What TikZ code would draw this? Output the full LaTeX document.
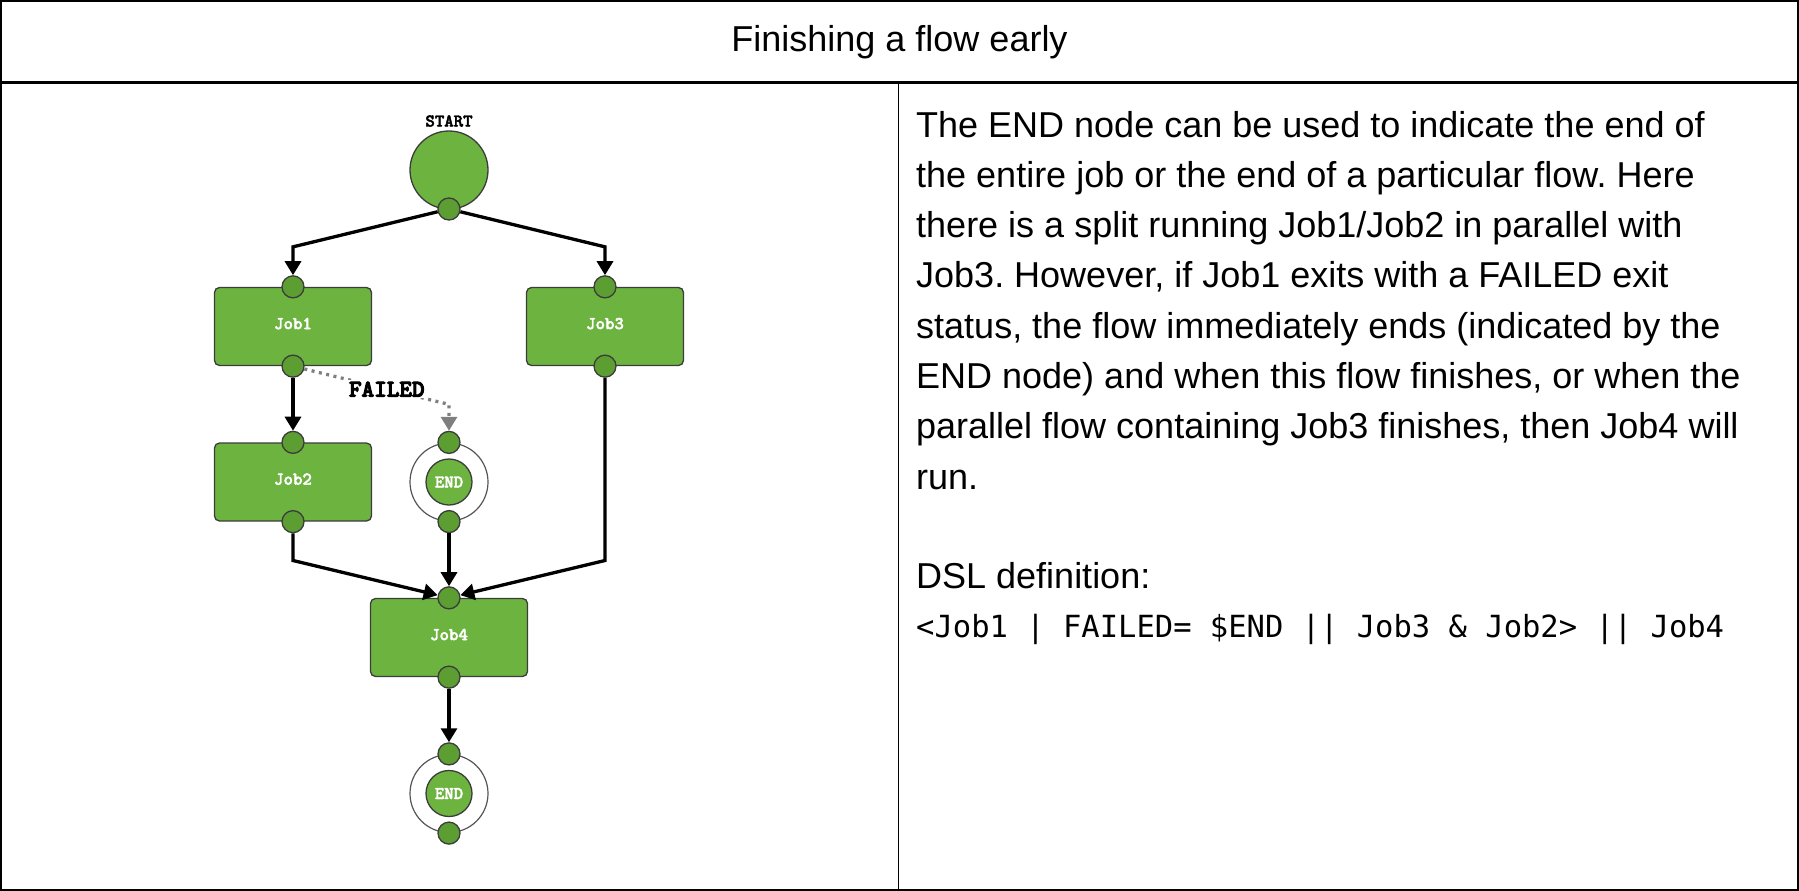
\documentclass[tikz,border=0pt]{standalone}
\usepackage{fontspec}
\setmainfont{Liberation Sans}
\newfontfamily\codefont{DejaVu Sans Mono}
\newfontfamily\lblfont{lmmonolt10-bold.otf}[FakeBold=2.5]
\newfontfamily\failfont{lmmonolt10-bold.otf}[FakeBold=4]
\usetikzlibrary{arrows.meta,calc}
\definecolor{boxgreen}{HTML}{6DB33F}
\definecolor{portgreen}{HTML}{5C9E31}
\definecolor{edgegray}{HTML}{3C3C3C}
\definecolor{ringgray}{HTML}{555555}
\definecolor{failgray}{HTML}{7F7F7F}
\frenchspacing
\begin{document}
\begin{tikzpicture}[x=1pt,y=-1pt,
  lbl/.style={font=\lblfont\fontsize{18}{18}\selectfont},
  jobbox/.style={draw=edgegray, line width=1.3pt, fill=boxgreen, rounded corners=5pt,
    minimum width=157pt, minimum height=78pt, inner sep=0pt, text=white, lbl, text depth=6pt},
  port/.style={circle, draw=edgegray, line width=1.3pt, fill=portgreen, minimum size=22pt, inner sep=0pt},
  ring/.style={circle, draw=ringgray, line width=1.2pt, fill=white, minimum size=78pt, inner sep=0pt},
  endcore/.style={circle, draw=edgegray, line width=1.3pt, fill=boxgreen, minimum size=46pt,
    inner sep=0pt, text=white, lbl},
  startnode/.style={circle, draw=edgegray, line width=1.3pt, fill=boxgreen, minimum size=78pt, inner sep=0pt},
  flow/.style={line width=3.3pt, -{Triangle[length=14pt,width=16pt]}},
  failflow/.style={line width=3.3pt, color=failgray, dash pattern=on 3pt off 4.5pt,
    -{Triangle[length=14pt,width=16pt]}},
  para/.style={anchor=base west, inner sep=0pt, font=\fontsize{36}{36}\selectfont},
]
\useasboundingbox (0,0) rectangle (1799,891);
% table
\draw[line width=2pt] (1,1) rectangle (1798,890);
\draw[line width=2.2pt] (0,82.5) -- (1799,82.5);
\draw[line width=1.6pt] (898.5,82.5) -- (898.5,891);
\node[anchor=base, inner sep=0pt, font=\fontsize{36}{36}\selectfont] (title) at (899.5,52) {Finishing a flow early};

% diagram nodes
\node[lbl, inner sep=0pt] (startlbl) at (449,121) {START};
\node[startnode] (start) at (449,170) {};
\node[port] (sp) at (449,209) {};

\node[jobbox] (job1) at (293,326.5) {Job1};
\node[port] (j1t) at (job1.north) {};
\node[port] (j1b) at (job1.south) {};

\node[jobbox] (job3) at (605,326.5) {Job3};
\node[port] (j3t) at (job3.north) {};
\node[port] (j3b) at (job3.south) {};

\node[jobbox] (job2) at (293,482) {Job2};
\node[port] (j2t) at (job2.north) {};
\node[port] (j2b) at (job2.south) {};

\node[ring] (end1ring) at (449,482) {};
\node[endcore] (end1) at (449,482) {END};
\node[port] (e1t) at (end1ring.north) {};
\node[port] (e1b) at (end1ring.south) {};

\node[jobbox] (job4) at (449,637.5) {Job4};
\node[port] (j4t) at (job4.north) {};
\node[port] (j4b) at (job4.south) {};

\node[ring] (end2ring) at (449,793.5) {};
\node[endcore] (end2) at (449,793.5) {END};
\node[port] (e2t) at (end2ring.north) {};
\node[port] (e2b) at (end2ring.south) {};

\coordinate (bendrow) at (449,560.5);

% connectors
\draw[flow] (sp) -- ([yshift=40pt]j1t.center) -- (j1t);
\draw[flow] (sp) -- ([yshift=40pt]j3t.center) -- (j3t);
\draw[flow] (j1b) -- (j2t);
\draw[failflow] (j1b) -- node[pos=0.57, fill=white, inner sep=1.5pt, text=black,
  font=\failfont\fontsize{24}{24}\selectfont] (faillbl) {FAILED}
  ([yshift=38pt]e1t.center) -- (e1t);
\draw[flow] (j2b) -- (j2b |- bendrow) -- (j4t);
\draw[flow] (j3b) -- (j3b |- bendrow) -- (j4t);
\draw[flow] (e1b) -- (j4t);
\draw[flow] (j4b) -- (e2t);

% text
\node[para] (p1) at (916,137) {The END node can be used to indicate the end of};
\node[para] (p2) at (916,187.3) {the entire job or the end of a particular flow. Here};
\node[para] (p3) at (916,237.6) {there is a split running Job1/Job2 in parallel with};
\node[para] (p4) at (916,287.9) {Job3. However, if Job1 exits with a FAILED exit};
\node[para] (p5) at (916,338.2) {status, the flow immediately ends (indicated by the};
\node[para] (p6) at (916,388.5) {END node) and when this flow finishes, or when the};
\node[para] (p7) at (916,438.8) {parallel flow containing Job3 finishes, then Job4 will};
\node[para] (p8) at (916,489.1) {run.};
\node[para] (dsl) at (916,588) {DSL definition:};
\node[anchor=base west, inner sep=0pt, font=\codefont\fontsize{30.5}{30.5}\selectfont] (code)
  at (916,637) {<Job1 | FAILED= \$END || Job3 \& Job2> || Job4};
\end{tikzpicture}
\end{document}
